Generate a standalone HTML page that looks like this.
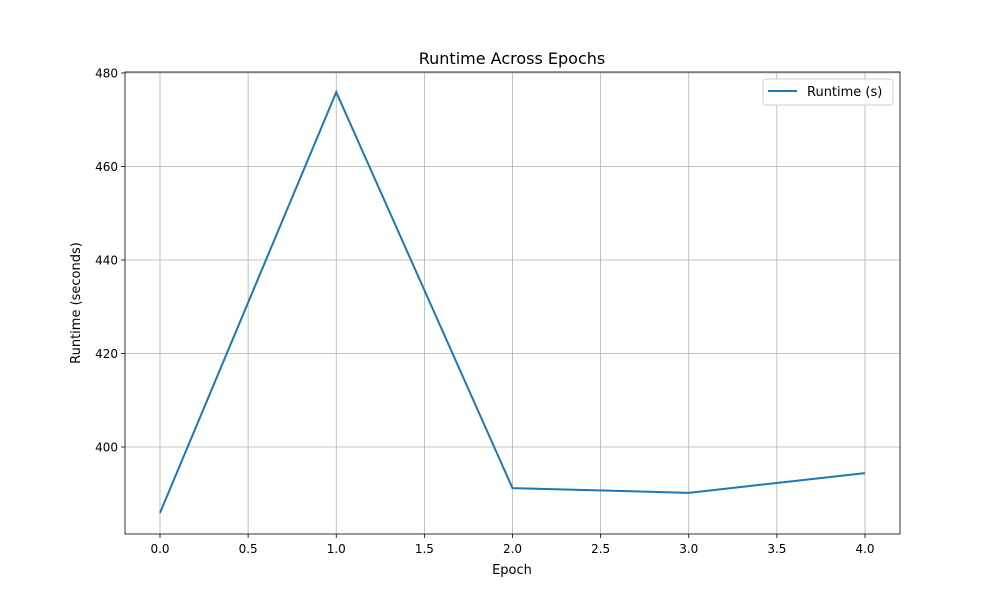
<!DOCTYPE html>
<html><head><meta charset="utf-8"><style>
body{margin:0;background:#fff;}
text{font-family:"DejaVu Sans","Liberation Sans",sans-serif;fill:#000;}
</style></head><body>
<svg id="chart" width="1000" height="600" xmlns="http://www.w3.org/2000/svg">
<rect width="1000" height="600" fill="#fff"/>
<g id="grid"></g>
<g id="axes"></g>
<g id="series"></g>
<text x="512" y="64" font-size="16" text-anchor="middle">Runtime Across Epochs</text>
<text x="512" y="574" font-size="13" text-anchor="middle">Epoch</text>
<text x="80" y="303" font-size="13" text-anchor="middle" transform="rotate(-90 80 303)">Runtime (seconds)</text>
<g>
<rect x="763" y="79" width="130" height="26" fill="#fff" stroke="#ccc" rx="3"/>
<line x1="768" y1="91" x2="797" y2="91" stroke="#1f77b4" stroke-width="2"/>
<text x="807" y="96" font-size="13">Runtime (s)</text>
</g>
</svg>
<script>
const epochs=[0,1,2,3,4];
const runtimes=[385.9,475.9,391.2,390.2,394.4];
const xTicks=[0,0.5,1,1.5,2,2.5,3,3.5,4];
const xTickLabels=["0.0","0.5","1.0","1.5","2.0","2.5","3.0","3.5","4.0"];
const yTicks=[400,420,440,460,480];
const yTickLabels=["400","420","440","460","480"];
const L=125,R=900,T=72,B=534;
const xs=v=>160+v*176.25;
const ys=v=>447-(v-400)*4.675;
const NS="http://www.w3.org/2000/svg";
function mk(tag,attrs,parent){const e=document.createElementNS(NS,tag);for(const k in attrs)e.setAttribute(k,attrs[k]);parent.appendChild(e);return e;}
const grid=document.getElementById('grid'),axes=document.getElementById('axes'),series=document.getElementById('series');
xTicks.forEach((t,i)=>{const x=xs(t);
const g=mk('line',{x1:x,x2:x,y1:T,y2:B,stroke:'#b0b0b0','stroke-width':0.8},grid);


mk('line',{x1:x,x2:x,y1:B,y2:B+4,stroke:'#000','stroke-width':0.8},axes);
const tx=mk('text',{x:x,y:B+19,'font-size':12,'text-anchor':'middle'},axes);tx.textContent=xTickLabels[i];

});
yTicks.forEach((t,i)=>{const y=ys(t);
const g=mk('line',{x1:L,x2:R,y1:y,y2:y,stroke:'#b0b0b0','stroke-width':0.8},grid);


mk('line',{x1:L-4,x2:L,y1:y,y2:y,stroke:'#000','stroke-width':0.8},axes);
const tx=mk('text',{x:L-7,y:y+4.5,'font-size':12,'text-anchor':'end'},axes);tx.textContent=yTickLabels[i];

});
const frame=mk('rect',{x:L,y:T,width:R-L,height:B-T,fill:'none',stroke:'#000','stroke-width':0.8},axes);


const line=mk('polyline',{points:epochs.map((e,i)=>xs(e)+','+ys(runtimes[i])).join(' '),fill:'none',stroke:'#1f77b4','stroke-width':2},series);


</script>
</body></html>
